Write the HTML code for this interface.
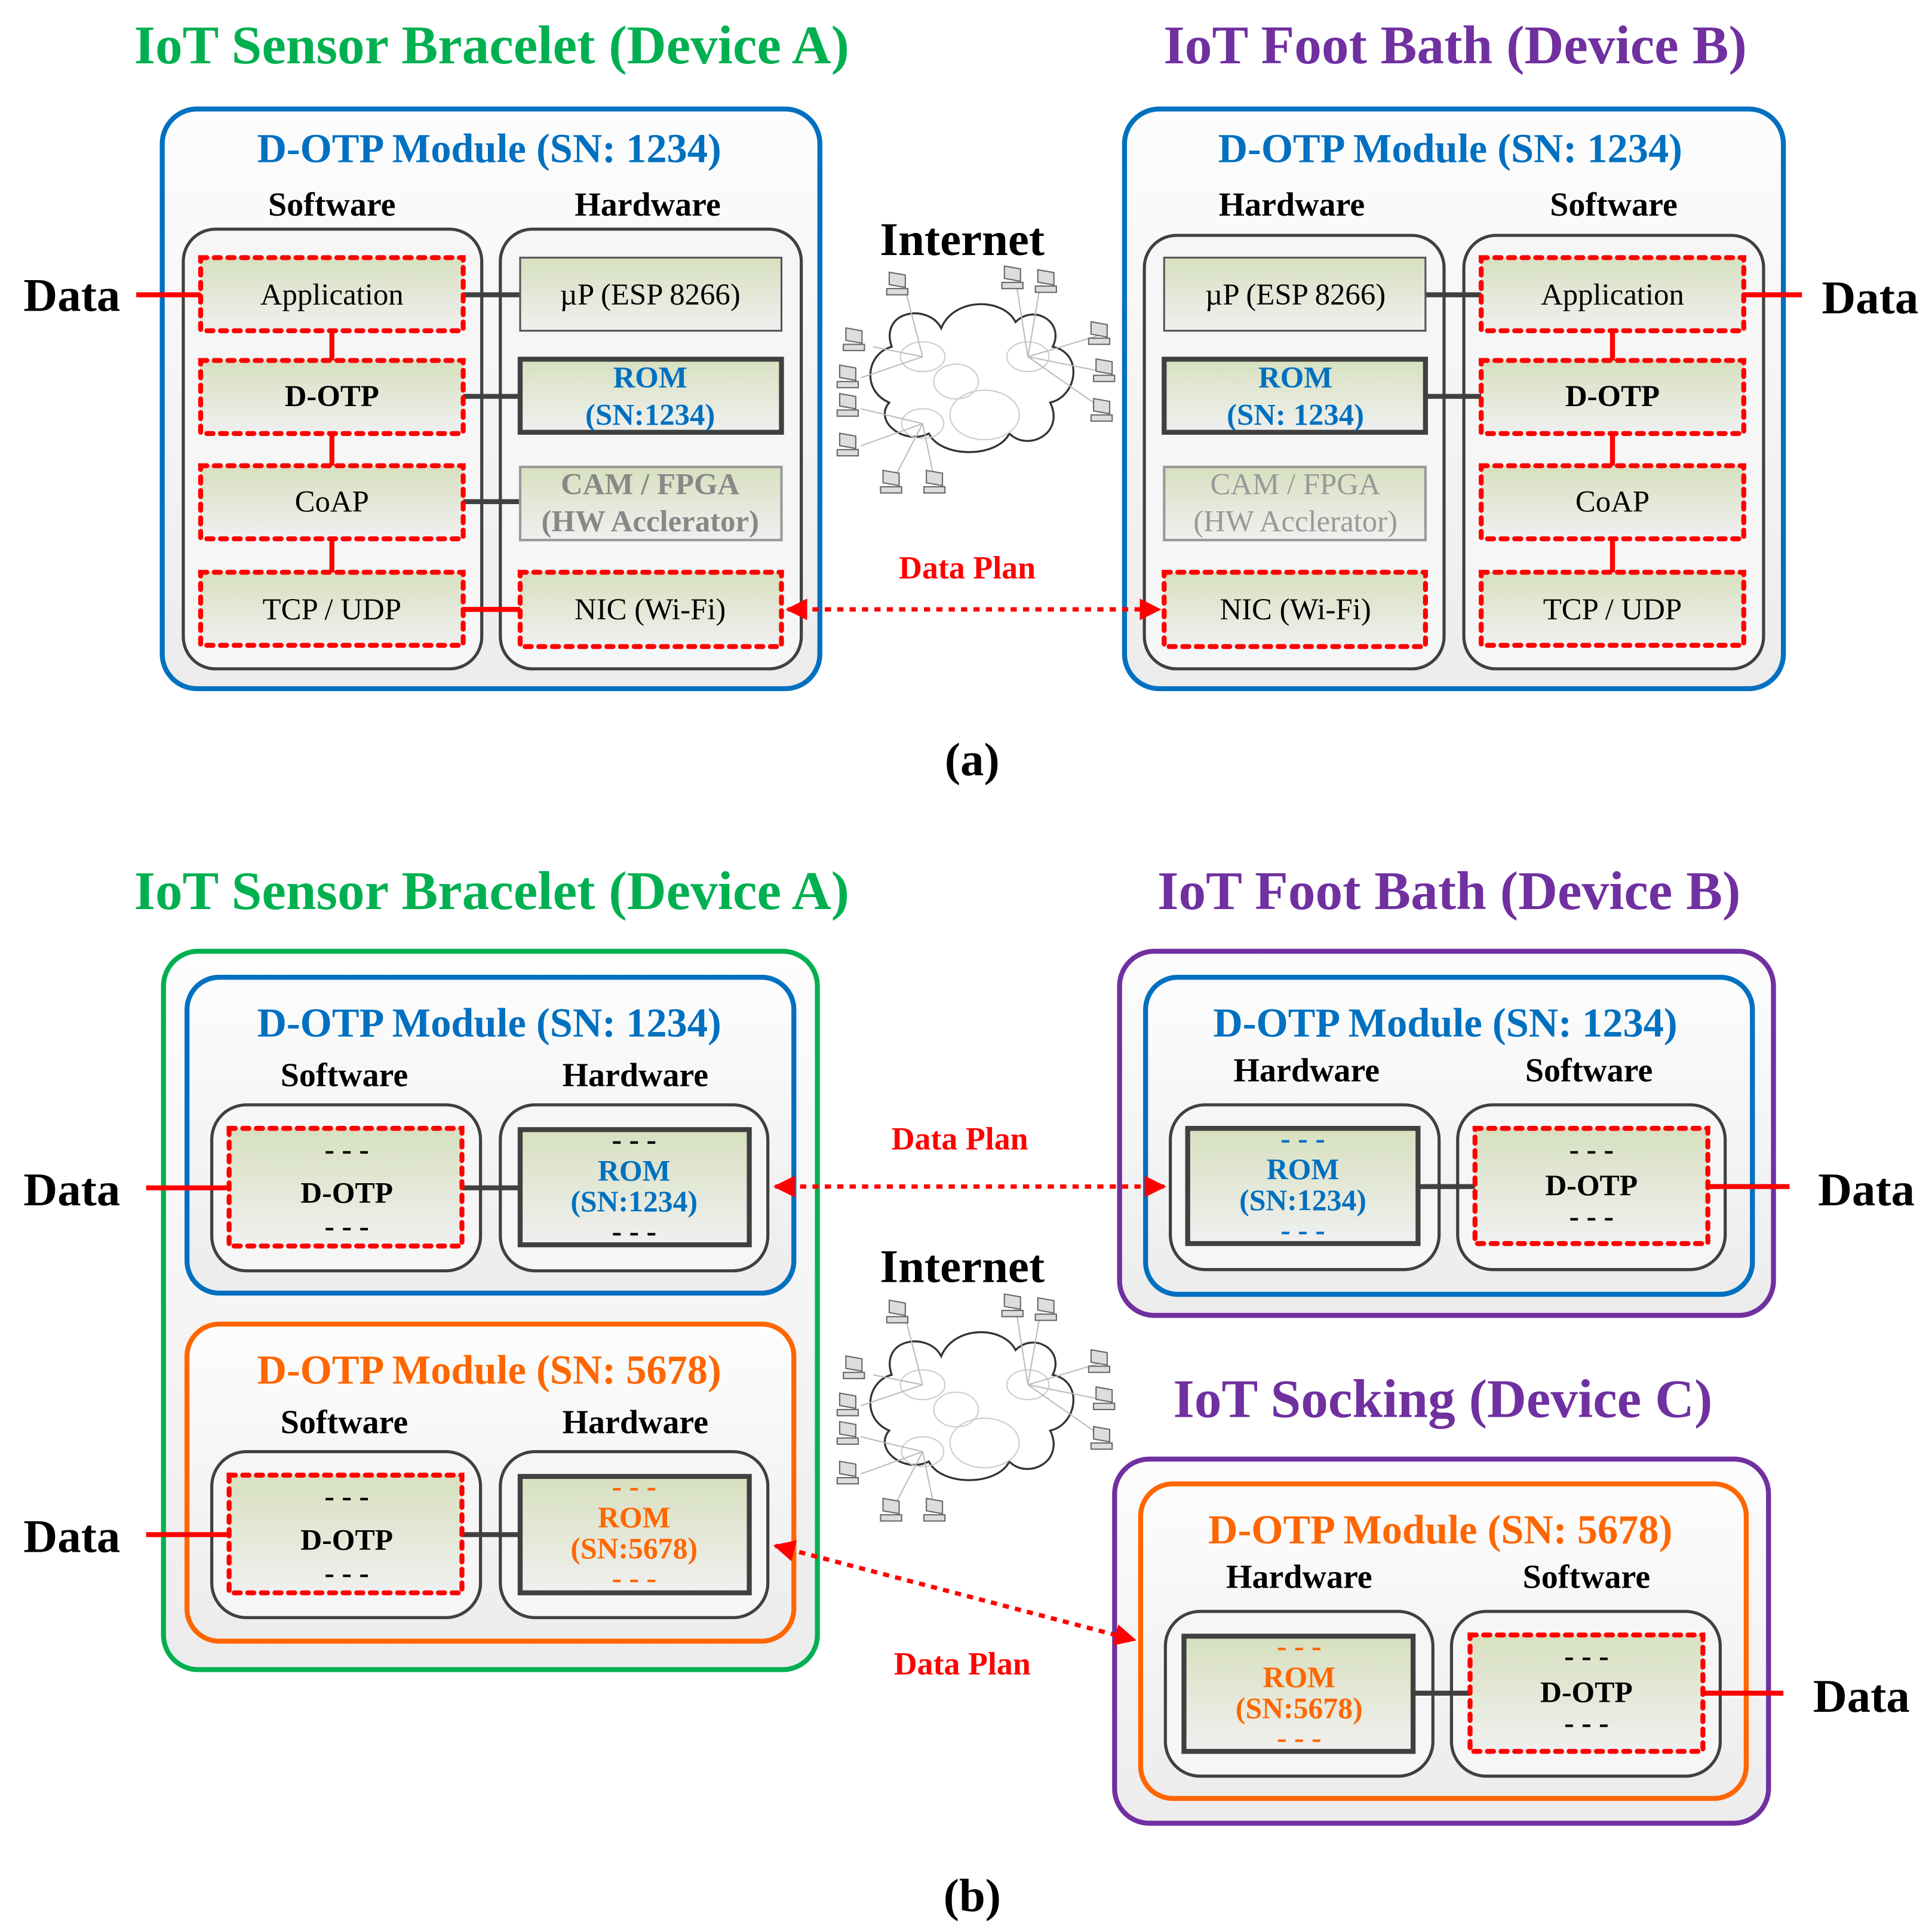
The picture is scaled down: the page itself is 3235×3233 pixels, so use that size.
<!DOCTYPE html>
<html><head><meta charset="utf-8"><style>html,body{margin:0;padding:0;background:#fff}svg{display:block}</style></head><body>
<svg xmlns="http://www.w3.org/2000/svg" width="3235" height="3233" viewBox="0 0 1560 1559" font-family="'Liberation Serif',serif">
<defs>
<linearGradient id="gb" x1="0" y1="0" x2="0" y2="1"><stop offset="0" stop-color="#d7e0bf"/><stop offset="1" stop-color="#f0f0f0"/></linearGradient>
<linearGradient id="gm" x1="0" y1="0" x2="0" y2="1"><stop offset="0" stop-color="#fdfdfd"/><stop offset="1" stop-color="#ececec"/></linearGradient>
<marker id="ar" viewBox="0 0 10 10" refX="9" refY="5" markerWidth="5" markerHeight="5" orient="auto-start-reverse"><path d="M0,0L10,5L0,10z" fill="#ff0000"/></marker>
<g id="pc"><rect x="-7" y="-9" width="13" height="10" fill="#ddd" stroke="#666" stroke-width="1" transform="skewY(10)"/><rect x="-9" y="3" width="17" height="5" fill="#ddd" stroke="#666" stroke-width="1"/></g>
<g id="cloud">
<path d="M20,30 C10,0 50,-5 60,15 C70,-10 110,-10 120,10 C135,-5 160,10 150,30 C175,35 170,70 148,75 C160,100 130,115 115,100 C105,120 60,120 50,100 C30,110 5,90 18,75 C-5,65 0,35 20,30Z" fill="#fff" stroke="#333" stroke-width="1.6"/>
<ellipse cx="45" cy="38" rx="18" ry="12" fill="none" stroke="#ccc"/>
<ellipse cx="72" cy="58" rx="18" ry="14" fill="none" stroke="#ccc"/>
<ellipse cx="130" cy="38" rx="17" ry="12" fill="none" stroke="#ccc"/>
<ellipse cx="95" cy="85" rx="28" ry="20" fill="none" stroke="#ccc"/>
<ellipse cx="45" cy="92" rx="17" ry="12" fill="none" stroke="#ccc"/>
<g stroke="#bbb" fill="none"><path d="M45,38L5,30M45,38L-5,55M45,38L30,-20M45,92L-5,80M45,92L-5,110M45,92L20,140M45,92L55,140M130,38L120,-25M130,38L140,-20M130,38L190,20M130,38L190,50M130,38L190,80"/></g>
<use href="#pc" x="-10" y="25"/><use href="#pc" x="-15" y="55"/><use href="#pc" x="25" y="-20"/><use href="#pc" x="-15" y="78"/><use href="#pc" x="-15" y="110"/><use href="#pc" x="20" y="140"/><use href="#pc" x="55" y="140"/><use href="#pc" x="118" y="-25"/><use href="#pc" x="145" y="-22"/><use href="#pc" x="188" y="20"/><use href="#pc" x="192" y="50"/><use href="#pc" x="190" y="82"/>
</g>
</defs>

<g font-weight="bold" text-anchor="middle">
<text x="397" y="51" font-size="44" fill="#00b050">IoT Sensor Bracelet (Device A)</text>
<text x="1175" y="51" font-size="44" fill="#7030a0">IoT Foot Bath (Device B)</text>

<rect x="131" y="88" width="531" height="468" rx="28" fill="url(#gm)" stroke="#0070c0" stroke-width="4"/>
<text x="395" y="131" font-size="33" fill="#0070c0">D-OTP Module (SN: 1234)</text>
<text x="268" y="174" font-size="27">Software</text><text x="523" y="174" font-size="27">Hardware</text>
<rect x="148" y="185" width="241" height="355" rx="26" fill="#f6f6f6" stroke="#404040" stroke-width="2.5"/>
<rect x="404" y="185" width="243" height="355" rx="26" fill="#f6f6f6" stroke="#404040" stroke-width="2.5"/>

<rect x="908" y="88" width="532" height="468" rx="28" fill="url(#gm)" stroke="#0070c0" stroke-width="4"/>
<text x="1171" y="131" font-size="33" fill="#0070c0">D-OTP Module (SN: 1234)</text>
<text x="1043" y="174" font-size="27">Hardware</text><text x="1303" y="174" font-size="27">Software</text>
<rect x="924" y="190" width="242" height="350" rx="26" fill="#f6f6f6" stroke="#404040" stroke-width="2.5"/>
<rect x="1182" y="190" width="242" height="350" rx="26" fill="#f6f6f6" stroke="#404040" stroke-width="2.5"/>
</g>

<g stroke-width="4">
<line x1="268" y1="267" x2="268" y2="291" stroke="#f00"/><line x1="268" y1="350" x2="268" y2="376" stroke="#f00"/><line x1="268" y1="435" x2="268" y2="462" stroke="#f00"/>
<line x1="374" y1="238" x2="420" y2="238" stroke="#404040"/><line x1="374" y1="320" x2="420" y2="320" stroke="#404040"/><line x1="374" y1="405" x2="420" y2="405" stroke="#404040"/><line x1="374" y1="492" x2="420" y2="492" stroke="#f00"/>
<line x1="110" y1="238" x2="162" y2="238" stroke="#f00"/>
<line x1="1302" y1="267" x2="1302" y2="291" stroke="#f00"/><line x1="1302" y1="350" x2="1302" y2="376" stroke="#f00"/><line x1="1302" y1="435" x2="1302" y2="462" stroke="#f00"/>
<line x1="1151" y1="238" x2="1196" y2="238" stroke="#404040"/><line x1="1151" y1="320" x2="1196" y2="320" stroke="#404040"/>
<line x1="1408" y1="238" x2="1455" y2="238" stroke="#f00"/>
</g>
<g fill="url(#gb)" stroke="#f00" stroke-width="4" stroke-dasharray="5 6" stroke-linecap="round">
<rect x="162" y="208" width="212" height="59"/><rect x="162" y="291" width="212" height="59"/><rect x="162" y="376" width="212" height="59"/><rect x="162" y="462" width="212" height="59"/>
<rect x="420" y="462" width="211" height="60"/>
<rect x="1196" y="208" width="212" height="59"/><rect x="1196" y="291" width="212" height="59"/><rect x="1196" y="376" width="212" height="59"/><rect x="1196" y="462" width="212" height="59"/>
<rect x="940" y="462" width="211" height="60"/>
</g>
<g fill="url(#gb)">
<rect x="420" y="208" width="211" height="59" stroke="#555" stroke-width="1.5"/>
<rect x="420" y="290" width="211" height="59" stroke="#404040" stroke-width="4"/>
<rect x="420" y="377" width="211" height="59" stroke="#999" stroke-width="2"/>
<rect x="940" y="208" width="211" height="59" stroke="#555" stroke-width="1.5"/>
<rect x="940" y="290" width="211" height="59" stroke="#404040" stroke-width="4"/>
<rect x="940" y="377" width="211" height="59" stroke="#999" stroke-width="2"/>
</g>
<g text-anchor="middle" font-size="24.5">
<text x="268" y="246">Application</text><text x="268" y="328" font-weight="bold">D-OTP</text><text x="268" y="413">CoAP</text><text x="268" y="500">TCP / UDP</text>
<text x="525" y="246">µP (ESP 8266)</text>
<text x="525" y="313" fill="#0070c0" font-weight="bold">ROM</text><text x="525" y="343" fill="#0070c0" font-weight="bold">(SN:1234)</text>
<text x="525" y="399" fill="#888" font-weight="bold">CAM / FPGA</text><text x="525" y="429" fill="#888" font-weight="bold">(HW Acclerator)</text>
<text x="525" y="500">NIC (Wi-Fi)</text>
<text x="1302" y="246">Application</text><text x="1302" y="328" font-weight="bold">D-OTP</text><text x="1302" y="413">CoAP</text><text x="1302" y="500">TCP / UDP</text>
<text x="1046" y="246">µP (ESP 8266)</text>
<text x="1046" y="313" fill="#0070c0" font-weight="bold">ROM</text><text x="1046" y="343" fill="#0070c0" font-weight="bold">(SN: 1234)</text>
<text x="1046" y="399" fill="#999">CAM / FPGA</text><text x="1046" y="429" fill="#999">(HW Acclerator)</text>
<text x="1046" y="500">NIC (Wi-Fi)</text>
<g font-weight="bold"><text x="58" y="251" font-size="38">Data</text><text x="1510" y="253" font-size="38">Data</text>
<text x="777" y="206" font-size="38">Internet</text>
<text x="781" y="467" font-size="26" fill="#f00">Data Plan</text>
<text x="777" y="1035" font-size="38">Internet</text>
<text x="775" y="928" font-size="26" fill="#f00">Data Plan</text>
<text x="777" y="1352" font-size="26" fill="#f00">Data Plan</text>
<text x="785" y="626" font-size="38">(a)</text>
<text x="785" y="1543" font-size="38">(b)</text></g>
</g>
<use href="#cloud" x="700" y="250"/>
<use href="#cloud" x="700" y="1080"/>
<line x1="636" y1="492" x2="936" y2="492" stroke="#f00" stroke-width="3.5" stroke-dasharray="5 5" marker-start="url(#ar)" marker-end="url(#ar)"/>

<g font-weight="bold" text-anchor="middle">
<text x="397" y="734" font-size="44" fill="#00b050">IoT Sensor Bracelet (Device A)</text>
<text x="1170" y="734" font-size="44" fill="#7030a0">IoT Foot Bath (Device B)</text>
<text x="1165" y="1144" font-size="44" fill="#7030a0">IoT Socking (Device C)</text>
<rect x="132" y="768" width="528" height="580" rx="28" fill="url(#gm)" stroke="#00b050" stroke-width="4"/>
<rect x="151" y="789" width="490" height="255" rx="26" fill="url(#gm)" stroke="#0070c0" stroke-width="4"/>
<text x="395" y="837" font-size="33" fill="#0070c0">D-OTP Module (SN: 1234)</text>
<text x="278" y="877" font-size="27">Software</text><text x="513" y="877" font-size="27">Hardware</text>
<rect x="151" y="1069" width="490" height="256" rx="26" fill="url(#gm)" stroke="#ff6600" stroke-width="4"/>
<text x="395" y="1117" font-size="33" fill="#ff6600">D-OTP Module (SN: 5678)</text>
<text x="278" y="1157" font-size="27">Software</text><text x="513" y="1157" font-size="27">Hardware</text>

<rect x="904" y="768" width="528" height="294" rx="28" fill="url(#gm)" stroke="#7030a0" stroke-width="4"/>
<rect x="925" y="789" width="490" height="256" rx="26" fill="url(#gm)" stroke="#0070c0" stroke-width="4"/>
<text x="1167" y="837" font-size="33" fill="#0070c0">D-OTP Module (SN: 1234)</text>
<text x="1055" y="873" font-size="27">Hardware</text><text x="1283" y="873" font-size="27">Software</text>

<rect x="900" y="1178" width="528" height="294" rx="28" fill="url(#gm)" stroke="#7030a0" stroke-width="4"/>
<rect x="921" y="1198" width="489" height="254" rx="26" fill="url(#gm)" stroke="#ff6600" stroke-width="4"/>
<text x="1163" y="1246" font-size="33" fill="#ff6600">D-OTP Module (SN: 5678)</text>
<text x="1049" y="1282" font-size="27">Hardware</text><text x="1281" y="1282" font-size="27">Software</text>
</g>
<g fill="#f6f6f6" stroke="#404040" stroke-width="2.5">
<rect x="171" y="892" width="217" height="134" rx="28"/><rect x="404" y="892" width="216" height="134" rx="28"/>
<rect x="171" y="1172" width="217" height="134" rx="28"/><rect x="404" y="1172" width="216" height="134" rx="28"/>
<rect x="945" y="892" width="217" height="133" rx="28"/><rect x="1177" y="892" width="216" height="133" rx="28"/>
<rect x="941" y="1301" width="216" height="133" rx="28"/><rect x="1172" y="1301" width="217" height="133" rx="28"/>
</g>
<g stroke-width="4">
<line x1="118" y1="959" x2="185" y2="959" stroke="#f00"/><line x1="118" y1="1239" x2="185" y2="1239" stroke="#f00"/>
<line x1="373" y1="959" x2="420" y2="959" stroke="#404040"/><line x1="373" y1="1239" x2="420" y2="1239" stroke="#404040"/>
<line x1="1145" y1="958" x2="1191" y2="958" stroke="#404040"/><line x1="1379" y1="958" x2="1445" y2="958" stroke="#f00"/>
<line x1="1141" y1="1367" x2="1187" y2="1367" stroke="#404040"/><line x1="1375" y1="1367" x2="1440" y2="1367" stroke="#f00"/>
</g>
<g fill="url(#gb)" stroke="#f00" stroke-width="4" stroke-dasharray="5 6" stroke-linecap="round">
<rect x="185" y="911" width="188" height="95"/><rect x="185" y="1191" width="188" height="95"/>
<rect x="1191" y="911" width="188" height="93"/><rect x="1187" y="1320" width="188" height="94"/>
</g>
<g fill="url(#gb)" stroke="#404040" stroke-width="4">
<rect x="420" y="912" width="185" height="93"/><rect x="420" y="1192" width="185" height="94"/>
<rect x="959" y="911" width="186" height="93"/><rect x="956" y="1321" width="185" height="93"/>
</g>
<g text-anchor="middle" font-size="24" font-weight="bold">
<text x="280" y="936">- - -</text><text x="280" y="971">D-OTP</text><text x="280" y="998">- - -</text>
<text x="280" y="1216">- - -</text><text x="280" y="1251">D-OTP</text><text x="280" y="1278">- - -</text>
<text x="1285" y="936">- - -</text><text x="1285" y="965">D-OTP</text><text x="1285" y="990">- - -</text>
<text x="1281" y="1345">- - -</text><text x="1281" y="1374">D-OTP</text><text x="1281" y="1399">- - -</text>
<text x="512" y="928">- - -</text><text x="512" y="953" fill="#0070c0">ROM</text><text x="512" y="978" fill="#0070c0">(SN:1234)</text><text x="512" y="1002">- - -</text>
<g fill="#ff6600"><text x="512" y="1208">- - -</text><text x="512" y="1233">ROM</text><text x="512" y="1258">(SN:5678)</text><text x="512" y="1282">- - -</text>
<text x="1049" y="1337">- - -</text><text x="1049" y="1362">ROM</text><text x="1049" y="1387">(SN:5678)</text><text x="1049" y="1411">- - -</text></g>
<g fill="#0070c0"><text x="1052" y="927">- - -</text><text x="1052" y="952">ROM</text><text x="1052" y="977">(SN:1234)</text><text x="1052" y="1001">- - -</text></g>
<g font-size="38"><text x="58" y="973">Data</text><text x="58" y="1253">Data</text><text x="1507" y="973">Data</text><text x="1503" y="1382">Data</text></g>
</g>
<line x1="626" y1="958" x2="940" y2="958" stroke="#f00" stroke-width="3.5" stroke-dasharray="5 5" marker-start="url(#ar)" marker-end="url(#ar)"/>
<line x1="626" y1="1248" x2="916" y2="1324" stroke="#f00" stroke-width="3.5" stroke-dasharray="5 5" marker-start="url(#ar)" marker-end="url(#ar)"/>
</svg>
</body></html>
